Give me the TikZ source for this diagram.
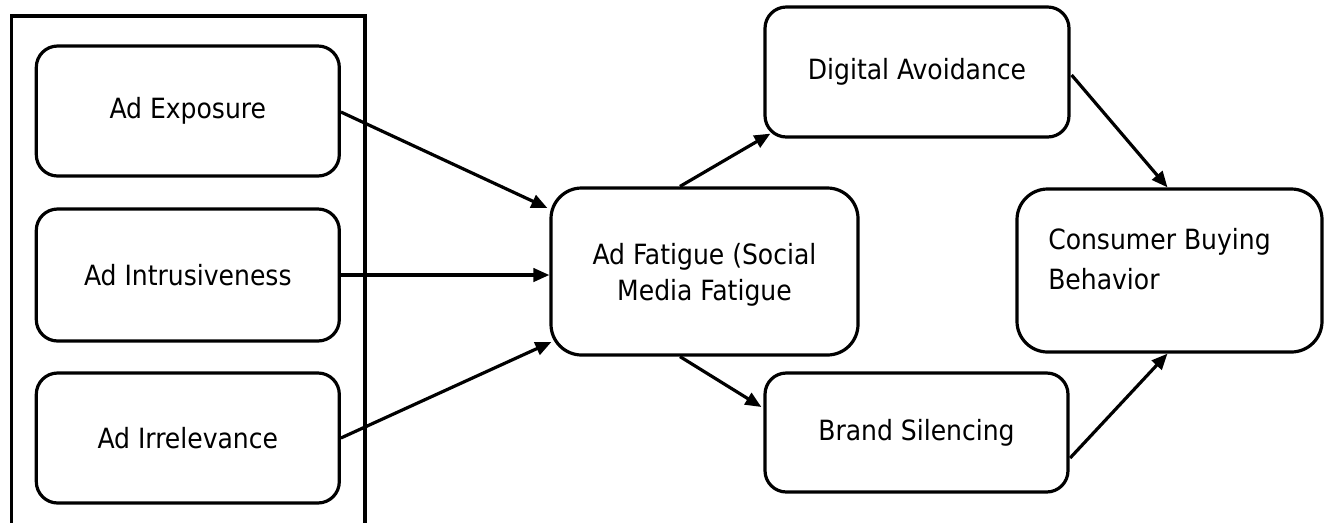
\documentclass[tikz,border=0pt]{standalone}
\usepackage{fontspec}
\setmainfont{DejaVu Sans Condensed}
\usetikzlibrary{arrows.meta,calc}
\begin{document}
\begin{tikzpicture}[x=0.75pt,y=-0.75pt,
  box/.style={draw, line width=2.4pt, rounded corners=16pt, inner sep=0pt, align=center,
    font=\fontsize{20.9pt}{27pt}\selectfont},
  bigbox/.style={box, rounded corners=23pt},
  conn/.style={line width=2.4pt, -{Triangle[length=12pt,width=10pt]}},
  frame/.style={line width=2.6pt}
]
\useasboundingbox (0,0) rectangle (1324,522);
% outer frame (open at the bottom, cut by the page edge)
\coordinate (fbl) at (11.5,530);
\coordinate (ftl) at (11.5,16);
\coordinate (ftr) at (365,16);
\coordinate (fbr) at (365,530);
\draw[frame] (fbl) -- (ftl) -- (ftr) -- (fbr);

\node[box, minimum width=227.25pt, minimum height=97.5pt] (exp) at (187.8,111) {Ad Exposure};
\node[box, minimum width=227.25pt, minimum height=99pt] (intr) at (187.8,275) {Ad Intrusiveness};
\node[box, minimum width=227.25pt, minimum height=97.5pt] (irr) at (187.8,438) {Ad Irrelevance};
\node[bigbox, minimum width=230.25pt, minimum height=125.25pt] (fat) at (704.5,271.5) {};
\node[align=center, inner sep=0pt, font=\fontsize{20.9pt}{27pt}\selectfont] (fattext) at (704.5,274.5) {Ad Fatigue (Social\\Media Fatigue};
\node[box, minimum width=228pt, minimum height=97.5pt] (dig) at (917,72) {Digital Avoidance};
\node[box, minimum width=227.25pt, minimum height=89.25pt] (brand) at (916.5,432.5) {Brand Silencing};
\node[bigbox, minimum width=228.75pt, minimum height=122.25pt] (cons) at (1169.5,270.5) {};
\node[anchor=north west, align=left, inner sep=0pt,
  font=\fontsize{20.9pt}{30pt}\selectfont] (constext) at (1048,228) {Consumer Buying\\Behavior};

\draw[conn] ($(exp.east)+(0,1)$) -- ($(fat.west)+(-2,-63.5)$);
\draw[conn] (intr.east) -- (intr.east -| fat.west);
\draw[conn] (irr.east) -- ($(fat.west)+(2,70.5)$);
\draw[conn] ($(fat.north)+(-24.5,0)$) -- ($(dig.south west)+(7,-5)$);
\draw[conn] ($(fat.south)+(-24.5,0)$) -- ($(brand.west)+(-2,-25.5)$);
\draw[conn] ($(dig.east)+(1,3)$) -- ($(cons.north)+(-2,0)$);
\draw[conn] ($(brand.east)+(0.5,25.5)$) -- ($(cons.south)+(-2,0)$);
\end{tikzpicture}
\end{document}
